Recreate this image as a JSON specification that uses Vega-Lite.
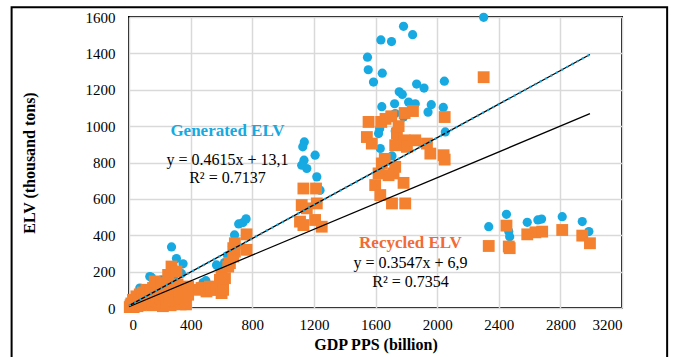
{
  "$schema": "https://vega.github.io/schema/vega-lite/v6.json",
  "width": 493,
  "height": 291,
  "autosize": {"type": "none"},
  "padding": {"left": 129, "top": 17, "right": 52, "bottom": 49},
  "background": "white",
  "config": {
    "view": {"stroke": "black", "strokeWidth": 2},
    "font": "Liberation Serif",
    "axis": {
      "labelFont": "Liberation Serif",
      "labelFontSize": 15,
      "labelColor": "black",
      "titleFont": "Liberation Serif",
      "titleFontSize": 16,
      "titleFontWeight": "bold",
      "titleColor": "black",
      "domain": false,
      "ticks": false,
      "grid": true,
      "gridColor": "#d9d9d9",
      "gridWidth": 1.5,
      "labelOverlap": false,
      "format": "d"
    }
  },
  "datasets": {
    "pts": [
      {"series": "Generated ELV", "x": 5, "y": 8},
      {"series": "Generated ELV", "x": 15, "y": 15},
      {"series": "Generated ELV", "x": 30, "y": 20},
      {"series": "Generated ELV", "x": 45, "y": 30},
      {"series": "Generated ELV", "x": 60, "y": 40},
      {"series": "Generated ELV", "x": 70, "y": 110},
      {"series": "Generated ELV", "x": 80, "y": 50},
      {"series": "Generated ELV", "x": 95, "y": 60},
      {"series": "Generated ELV", "x": 110, "y": 70},
      {"series": "Generated ELV", "x": 125, "y": 80},
      {"series": "Generated ELV", "x": 135, "y": 173},
      {"series": "Generated ELV", "x": 146, "y": 168},
      {"series": "Generated ELV", "x": 160, "y": 90},
      {"series": "Generated ELV", "x": 180, "y": 120},
      {"series": "Generated ELV", "x": 200, "y": 140},
      {"series": "Generated ELV", "x": 211, "y": 155},
      {"series": "Generated ELV", "x": 221, "y": 151},
      {"series": "Generated ELV", "x": 240, "y": 130},
      {"series": "Generated ELV", "x": 254, "y": 173},
      {"series": "Generated ELV", "x": 270, "y": 180},
      {"series": "Generated ELV", "x": 276, "y": 336},
      {"series": "Generated ELV", "x": 290, "y": 160},
      {"series": "Generated ELV", "x": 308, "y": 272},
      {"series": "Generated ELV", "x": 320, "y": 200},
      {"series": "Generated ELV", "x": 340, "y": 190},
      {"series": "Generated ELV", "x": 351, "y": 243},
      {"series": "Generated ELV", "x": 365, "y": 120},
      {"series": "Generated ELV", "x": 380, "y": 110},
      {"series": "Generated ELV", "x": 481, "y": 140},
      {"series": "Generated ELV", "x": 499, "y": 150},
      {"series": "Generated ELV", "x": 568, "y": 237},
      {"series": "Generated ELV", "x": 579, "y": 228},
      {"series": "Generated ELV", "x": 600, "y": 200},
      {"series": "Generated ELV", "x": 620, "y": 250},
      {"series": "Generated ELV", "x": 640, "y": 288},
      {"series": "Generated ELV", "x": 672, "y": 340},
      {"series": "Generated ELV", "x": 685, "y": 402},
      {"series": "Generated ELV", "x": 712, "y": 462},
      {"series": "Generated ELV", "x": 740, "y": 470},
      {"series": "Generated ELV", "x": 760, "y": 490},
      {"series": "Generated ELV", "x": 1138, "y": 913},
      {"series": "Generated ELV", "x": 1128, "y": 886},
      {"series": "Generated ELV", "x": 1208, "y": 840},
      {"series": "Generated ELV", "x": 1136, "y": 813},
      {"series": "Generated ELV", "x": 1154, "y": 767},
      {"series": "Generated ELV", "x": 1121, "y": 785},
      {"series": "Generated ELV", "x": 1219, "y": 721},
      {"series": "Generated ELV", "x": 1240, "y": 648},
      {"series": "Generated ELV", "x": 1782, "y": 1549},
      {"series": "Generated ELV", "x": 1841, "y": 1503},
      {"series": "Generated ELV", "x": 1635, "y": 1474},
      {"series": "Generated ELV", "x": 1704, "y": 1465},
      {"series": "Generated ELV", "x": 1548, "y": 1379},
      {"series": "Generated ELV", "x": 1553, "y": 1310},
      {"series": "Generated ELV", "x": 1644, "y": 1291},
      {"series": "Generated ELV", "x": 1587, "y": 1242},
      {"series": "Generated ELV", "x": 2047, "y": 1247},
      {"series": "Generated ELV", "x": 1867, "y": 1231},
      {"series": "Generated ELV", "x": 1915, "y": 1209},
      {"series": "Generated ELV", "x": 1754, "y": 1189},
      {"series": "Generated ELV", "x": 1774, "y": 1174},
      {"series": "Generated ELV", "x": 1641, "y": 1107},
      {"series": "Generated ELV", "x": 1724, "y": 1123},
      {"series": "Generated ELV", "x": 1815, "y": 1132},
      {"series": "Generated ELV", "x": 1858, "y": 1123},
      {"series": "Generated ELV", "x": 1962, "y": 1118},
      {"series": "Generated ELV", "x": 2040, "y": 1103},
      {"series": "Generated ELV", "x": 1941, "y": 1077},
      {"series": "Generated ELV", "x": 1782, "y": 1050},
      {"series": "Generated ELV", "x": 1728, "y": 1069},
      {"series": "Generated ELV", "x": 1627, "y": 986},
      {"series": "Generated ELV", "x": 1620, "y": 959},
      {"series": "Generated ELV", "x": 1728, "y": 973},
      {"series": "Generated ELV", "x": 2053, "y": 968},
      {"series": "Generated ELV", "x": 1631, "y": 877},
      {"series": "Generated ELV", "x": 1707, "y": 836},
      {"series": "Generated ELV", "x": 1782, "y": 886},
      {"series": "Generated ELV", "x": 2302, "y": 1598},
      {"series": "Generated ELV", "x": 2335, "y": 447},
      {"series": "Generated ELV", "x": 2450, "y": 515},
      {"series": "Generated ELV", "x": 2465, "y": 420},
      {"series": "Generated ELV", "x": 2471, "y": 392},
      {"series": "Generated ELV", "x": 2585, "y": 471},
      {"series": "Generated ELV", "x": 2654, "y": 484},
      {"series": "Generated ELV", "x": 2678, "y": 489},
      {"series": "Generated ELV", "x": 2812, "y": 502},
      {"series": "Generated ELV", "x": 2942, "y": 475},
      {"series": "Generated ELV", "x": 2985, "y": 420},
      {"series": "Recycled ELV", "x": 5, "y": 5},
      {"series": "Recycled ELV", "x": 10, "y": 15},
      {"series": "Recycled ELV", "x": 15, "y": 25},
      {"series": "Recycled ELV", "x": 20, "y": 10},
      {"series": "Recycled ELV", "x": 26, "y": 45},
      {"series": "Recycled ELV", "x": 30, "y": 5},
      {"series": "Recycled ELV", "x": 40, "y": 20},
      {"series": "Recycled ELV", "x": 48, "y": 64},
      {"series": "Recycled ELV", "x": 55, "y": 10},
      {"series": "Recycled ELV", "x": 60, "y": 30},
      {"series": "Recycled ELV", "x": 70, "y": 75},
      {"series": "Recycled ELV", "x": 75, "y": 15},
      {"series": "Recycled ELV", "x": 80, "y": 40},
      {"series": "Recycled ELV", "x": 90, "y": 85},
      {"series": "Recycled ELV", "x": 95, "y": 20},
      {"series": "Recycled ELV", "x": 100, "y": 50},
      {"series": "Recycled ELV", "x": 113, "y": 100},
      {"series": "Recycled ELV", "x": 120, "y": 30},
      {"series": "Recycled ELV", "x": 130, "y": 60},
      {"series": "Recycled ELV", "x": 140, "y": 90},
      {"series": "Recycled ELV", "x": 150, "y": 15},
      {"series": "Recycled ELV", "x": 156, "y": 110},
      {"series": "Recycled ELV", "x": 160, "y": 40},
      {"series": "Recycled ELV", "x": 167, "y": 146},
      {"series": "Recycled ELV", "x": 175, "y": 70},
      {"series": "Recycled ELV", "x": 185, "y": 20},
      {"series": "Recycled ELV", "x": 195, "y": 100},
      {"series": "Recycled ELV", "x": 205, "y": 50},
      {"series": "Recycled ELV", "x": 211, "y": 137},
      {"series": "Recycled ELV", "x": 220, "y": 10},
      {"series": "Recycled ELV", "x": 230, "y": 80},
      {"series": "Recycled ELV", "x": 240, "y": 30},
      {"series": "Recycled ELV", "x": 250, "y": 120},
      {"series": "Recycled ELV", "x": 254, "y": 182},
      {"series": "Recycled ELV", "x": 260, "y": 60},
      {"series": "Recycled ELV", "x": 270, "y": 15},
      {"series": "Recycled ELV", "x": 276, "y": 228},
      {"series": "Recycled ELV", "x": 285, "y": 90},
      {"series": "Recycled ELV", "x": 295, "y": 40},
      {"series": "Recycled ELV", "x": 308, "y": 201},
      {"series": "Recycled ELV", "x": 315, "y": 130},
      {"series": "Recycled ELV", "x": 325, "y": 70},
      {"series": "Recycled ELV", "x": 335, "y": 20},
      {"series": "Recycled ELV", "x": 345, "y": 100},
      {"series": "Recycled ELV", "x": 355, "y": 50},
      {"series": "Recycled ELV", "x": 362, "y": 80},
      {"series": "Recycled ELV", "x": 370, "y": 20},
      {"series": "Recycled ELV", "x": 384, "y": 118},
      {"series": "Recycled ELV", "x": 384, "y": 73},
      {"series": "Recycled ELV", "x": 460, "y": 100},
      {"series": "Recycled ELV", "x": 471, "y": 110},
      {"series": "Recycled ELV", "x": 503, "y": 91},
      {"series": "Recycled ELV", "x": 525, "y": 118},
      {"series": "Recycled ELV", "x": 536, "y": 100},
      {"series": "Recycled ELV", "x": 568, "y": 100},
      {"series": "Recycled ELV", "x": 590, "y": 118},
      {"series": "Recycled ELV", "x": 590, "y": 155},
      {"series": "Recycled ELV", "x": 601, "y": 82},
      {"series": "Recycled ELV", "x": 601, "y": 182},
      {"series": "Recycled ELV", "x": 611, "y": 100},
      {"series": "Recycled ELV", "x": 623, "y": 164},
      {"series": "Recycled ELV", "x": 644, "y": 228},
      {"series": "Recycled ELV", "x": 655, "y": 247},
      {"series": "Recycled ELV", "x": 677, "y": 283},
      {"series": "Recycled ELV", "x": 677, "y": 329},
      {"series": "Recycled ELV", "x": 687, "y": 310},
      {"series": "Recycled ELV", "x": 687, "y": 356},
      {"series": "Recycled ELV", "x": 763, "y": 405},
      {"series": "Recycled ELV", "x": 763, "y": 320},
      {"series": "Recycled ELV", "x": 1132, "y": 657},
      {"series": "Recycled ELV", "x": 1214, "y": 657},
      {"series": "Recycled ELV", "x": 1121, "y": 566},
      {"series": "Recycled ELV", "x": 1154, "y": 548},
      {"series": "Recycled ELV", "x": 1219, "y": 575},
      {"series": "Recycled ELV", "x": 1110, "y": 475},
      {"series": "Recycled ELV", "x": 1208, "y": 484},
      {"series": "Recycled ELV", "x": 1251, "y": 447},
      {"series": "Recycled ELV", "x": 1132, "y": 456},
      {"series": "Recycled ELV", "x": 1555, "y": 1023},
      {"series": "Recycled ELV", "x": 1637, "y": 1023},
      {"series": "Recycled ELV", "x": 1665, "y": 1040},
      {"series": "Recycled ELV", "x": 1702, "y": 1054},
      {"series": "Recycled ELV", "x": 1789, "y": 1072},
      {"series": "Recycled ELV", "x": 1843, "y": 1083},
      {"series": "Recycled ELV", "x": 2049, "y": 1050},
      {"series": "Recycled ELV", "x": 1544, "y": 940},
      {"series": "Recycled ELV", "x": 1576, "y": 904},
      {"series": "Recycled ELV", "x": 1739, "y": 959},
      {"series": "Recycled ELV", "x": 1750, "y": 1000},
      {"series": "Recycled ELV", "x": 1750, "y": 913},
      {"series": "Recycled ELV", "x": 1789, "y": 922},
      {"series": "Recycled ELV", "x": 1804, "y": 886},
      {"series": "Recycled ELV", "x": 1858, "y": 922},
      {"series": "Recycled ELV", "x": 1728, "y": 895},
      {"series": "Recycled ELV", "x": 1934, "y": 904},
      {"series": "Recycled ELV", "x": 1956, "y": 849},
      {"series": "Recycled ELV", "x": 2042, "y": 840},
      {"series": "Recycled ELV", "x": 2049, "y": 816},
      {"series": "Recycled ELV", "x": 1641, "y": 795},
      {"series": "Recycled ELV", "x": 1660, "y": 820},
      {"series": "Recycled ELV", "x": 1728, "y": 776},
      {"series": "Recycled ELV", "x": 1717, "y": 740},
      {"series": "Recycled ELV", "x": 1620, "y": 740},
      {"series": "Recycled ELV", "x": 1685, "y": 730},
      {"series": "Recycled ELV", "x": 1598, "y": 676},
      {"series": "Recycled ELV", "x": 1782, "y": 688},
      {"series": "Recycled ELV", "x": 1631, "y": 621},
      {"series": "Recycled ELV", "x": 1707, "y": 575},
      {"series": "Recycled ELV", "x": 1793, "y": 575},
      {"series": "Recycled ELV", "x": 2302, "y": 1269},
      {"series": "Recycled ELV", "x": 2335, "y": 341},
      {"series": "Recycled ELV", "x": 2450, "y": 453},
      {"series": "Recycled ELV", "x": 2465, "y": 338},
      {"series": "Recycled ELV", "x": 2471, "y": 329},
      {"series": "Recycled ELV", "x": 2585, "y": 405},
      {"series": "Recycled ELV", "x": 2638, "y": 416},
      {"series": "Recycled ELV", "x": 2682, "y": 420},
      {"series": "Recycled ELV", "x": 2812, "y": 429},
      {"series": "Recycled ELV", "x": 2942, "y": 398},
      {"series": "Recycled ELV", "x": 2992, "y": 356}
    ],
    "trend": [
      {"series": "Generated ELV", "x": 0, "y": 13.1},
      {"series": "Generated ELV", "x": 2992, "y": 1393.9},
      {"series": "Recycled ELV", "x": 0, "y": 6.9},
      {"series": "Recycled ELV", "x": 2992, "y": 1068.2}
    ],
    "one": [{}]
  },
  "layer": [
    {
      "data": {"name": "pts"},
      "transform": [{"filter": "datum.series === 'Generated ELV'"}],
      "mark": {"type": "point", "shape": "circle", "filled": true, "size": 85, "color": "#17A9E1", "opacity": 1},
      "encoding": {
        "x": {"field": "x", "type": "quantitative", "scale": {"domain": [0, 3200], "nice": false, "zero": false}, "axis": {"values": [0, 400, 800, 1200, 1600, 2000, 2400, 2800, 3200], "title": "GDP PPS (billion)", "labelPadding": 9, "titlePadding": 4, "grid": true, "format": "d", "labelOverlap": false, "labelFont": "Liberation Serif", "labelFontSize": 15}},
        "y": {"field": "y", "type": "quantitative", "scale": {"domain": [0, 1600], "nice": false, "zero": false}, "axis": {"values": [0, 200, 400, 600, 800, 1000, 1200, 1400, 1600], "title": "ELV (thousand tons)", "labelPadding": 14, "titlePadding": 48, "grid": true, "format": "d", "labelOverlap": false, "labelFont": "Liberation Serif", "labelFontSize": 15}}
      }
    },
    {
      "data": {"name": "pts"},
      "transform": [{"filter": "datum.series === 'Recycled ELV'"}],
      "mark": {"type": "point", "shape": "square", "filled": true, "size": 140, "color": "#F4812F", "opacity": 1},
      "encoding": {
        "x": {"field": "x", "type": "quantitative", "axis": {"values": [0, 400, 800, 1200, 1600, 2000, 2400, 2800, 3200], "title": "GDP PPS (billion)", "labelPadding": 9, "titlePadding": 4, "grid": true, "format": "d", "labelOverlap": false, "labelFont": "Liberation Serif", "labelFontSize": 15}},
        "y": {"field": "y", "type": "quantitative", "axis": {"values": [0, 200, 400, 600, 800, 1000, 1200, 1400, 1600], "title": "ELV (thousand tons)", "labelPadding": 14, "titlePadding": 48, "grid": true, "format": "d", "labelOverlap": false, "labelFont": "Liberation Serif", "labelFontSize": 15}}
      }
    },
    {
      "data": {"name": "trend"},
      "mark": {"type": "line", "color": "black", "strokeWidth": 1.3},
      "encoding": {
        "x": {"field": "x", "type": "quantitative", "axis": {"values": [0, 400, 800, 1200, 1600, 2000, 2400, 2800, 3200], "title": "GDP PPS (billion)", "labelPadding": 9, "titlePadding": 4, "grid": true, "format": "d", "labelOverlap": false, "labelFont": "Liberation Serif", "labelFontSize": 15}},
        "y": {"field": "y", "type": "quantitative", "axis": {"values": [0, 200, 400, 600, 800, 1000, 1200, 1400, 1600], "title": "ELV (thousand tons)", "labelPadding": 14, "titlePadding": 48, "grid": true, "format": "d", "labelOverlap": false, "labelFont": "Liberation Serif", "labelFontSize": 15}},
        "detail": {"field": "series"}
      }
    },
    {
      "data": {"name": "trend"},
      "transform": [{"filter": "datum.series === 'Generated ELV'"}],
      "mark": {"type": "line", "color": "#17A9E1", "strokeWidth": 2.2, "strokeDash": [2, 4]},
      "encoding": {
        "x": {"field": "x", "type": "quantitative", "axis": {"values": [0, 400, 800, 1200, 1600, 2000, 2400, 2800, 3200], "title": "GDP PPS (billion)", "labelPadding": 9, "titlePadding": 4, "grid": true, "format": "d", "labelOverlap": false, "labelFont": "Liberation Serif", "labelFontSize": 15}},
        "y": {"field": "y", "type": "quantitative", "axis": {"values": [0, 200, 400, 600, 800, 1000, 1200, 1400, 1600], "title": "ELV (thousand tons)", "labelPadding": 14, "titlePadding": 48, "grid": true, "format": "d", "labelOverlap": false, "labelFont": "Liberation Serif", "labelFontSize": 15}}
      }
    },
    {
      "data": {"name": "one"},
      "mark": {"type": "rect", "fill": null, "filled": false, "stroke": "black", "strokeWidth": 2, "clip": false},
      "encoding": {
        "x": {"datum": -762, "type": "quantitative", "axis": {"values": [0, 400, 800, 1200, 1600, 2000, 2400, 2800, 3200], "title": "GDP PPS (billion)", "labelPadding": 9, "titlePadding": 4, "grid": true, "format": "d", "labelOverlap": false, "labelFont": "Liberation Serif", "labelFontSize": 15}},
        "x2": {"datum": 3493},
        "y": {"datum": 1654, "type": "quantitative", "axis": {"values": [0, 200, 400, 600, 800, 1000, 1200, 1400, 1600], "title": "ELV (thousand tons)", "labelPadding": 14, "titlePadding": 48, "grid": true, "format": "d", "labelOverlap": false, "labelFont": "Liberation Serif", "labelFontSize": 15}},
        "y2": {"datum": -300}
      }
    },
    {
      "data": {"name": "one"},
      "mark": {"type": "text", "font": "Liberation Serif", "fontSize": 17, "fontWeight": "bold", "color": "#17A9E1", "align": "center", "baseline": "middle"},
      "encoding": {"x": {"datum": 639, "type": "quantitative", "axis": {"values": [0, 400, 800, 1200, 1600, 2000, 2400, 2800, 3200], "title": "GDP PPS (billion)", "labelPadding": 9, "titlePadding": 4, "grid": true, "format": "d", "labelOverlap": false, "labelFont": "Liberation Serif", "labelFontSize": 15}}, "y": {"datum": 973, "type": "quantitative", "axis": {"values": [0, 200, 400, 600, 800, 1000, 1200, 1400, 1600], "title": "ELV (thousand tons)", "labelPadding": 14, "titlePadding": 48, "grid": true, "format": "d", "labelOverlap": false, "labelFont": "Liberation Serif", "labelFontSize": 15}}, "text": {"value": "Generated ELV"}}
    },
    {
      "data": {"name": "one"},
      "mark": {"type": "text", "font": "Liberation Serif", "fontSize": 16, "color": "black", "align": "center", "baseline": "middle"},
      "encoding": {"x": {"datum": 639, "type": "quantitative", "axis": {"values": [0, 400, 800, 1200, 1600, 2000, 2400, 2800, 3200], "title": "GDP PPS (billion)", "labelPadding": 9, "titlePadding": 4, "grid": true, "format": "d", "labelOverlap": false, "labelFont": "Liberation Serif", "labelFontSize": 15}}, "y": {"datum": 814, "type": "quantitative", "axis": {"values": [0, 200, 400, 600, 800, 1000, 1200, 1400, 1600], "title": "ELV (thousand tons)", "labelPadding": 14, "titlePadding": 48, "grid": true, "format": "d", "labelOverlap": false, "labelFont": "Liberation Serif", "labelFontSize": 15}}, "text": {"value": "y = 0.4615x + 13,1"}}
    },
    {
      "data": {"name": "one"},
      "mark": {"type": "text", "font": "Liberation Serif", "fontSize": 16, "color": "black", "align": "center", "baseline": "middle"},
      "encoding": {"x": {"datum": 639, "type": "quantitative", "axis": {"values": [0, 400, 800, 1200, 1600, 2000, 2400, 2800, 3200], "title": "GDP PPS (billion)", "labelPadding": 9, "titlePadding": 4, "grid": true, "format": "d", "labelOverlap": false, "labelFont": "Liberation Serif", "labelFontSize": 15}}, "y": {"datum": 715, "type": "quantitative", "axis": {"values": [0, 200, 400, 600, 800, 1000, 1200, 1400, 1600], "title": "ELV (thousand tons)", "labelPadding": 14, "titlePadding": 48, "grid": true, "format": "d", "labelOverlap": false, "labelFont": "Liberation Serif", "labelFontSize": 15}}, "text": {"value": "R² = 0.7137"}}
    },
    {
      "data": {"name": "one"},
      "mark": {"type": "text", "font": "Liberation Serif", "fontSize": 17, "fontWeight": "bold", "color": "#F26A35", "align": "center", "baseline": "middle"},
      "encoding": {"x": {"datum": 1827, "type": "quantitative", "axis": {"values": [0, 400, 800, 1200, 1600, 2000, 2400, 2800, 3200], "title": "GDP PPS (billion)", "labelPadding": 9, "titlePadding": 4, "grid": true, "format": "d", "labelOverlap": false, "labelFont": "Liberation Serif", "labelFontSize": 15}}, "y": {"datum": 356, "type": "quantitative", "axis": {"values": [0, 200, 400, 600, 800, 1000, 1200, 1400, 1600], "title": "ELV (thousand tons)", "labelPadding": 14, "titlePadding": 48, "grid": true, "format": "d", "labelOverlap": false, "labelFont": "Liberation Serif", "labelFontSize": 15}}, "text": {"value": "Recycled ELV"}}
    },
    {
      "data": {"name": "one"},
      "mark": {"type": "text", "font": "Liberation Serif", "fontSize": 16, "color": "black", "align": "center", "baseline": "middle"},
      "encoding": {"x": {"datum": 1827, "type": "quantitative", "axis": {"values": [0, 400, 800, 1200, 1600, 2000, 2400, 2800, 3200], "title": "GDP PPS (billion)", "labelPadding": 9, "titlePadding": 4, "grid": true, "format": "d", "labelOverlap": false, "labelFont": "Liberation Serif", "labelFontSize": 15}}, "y": {"datum": 246, "type": "quantitative", "axis": {"values": [0, 200, 400, 600, 800, 1000, 1200, 1400, 1600], "title": "ELV (thousand tons)", "labelPadding": 14, "titlePadding": 48, "grid": true, "format": "d", "labelOverlap": false, "labelFont": "Liberation Serif", "labelFontSize": 15}}, "text": {"value": "y = 0.3547x + 6,9"}}
    },
    {
      "data": {"name": "one"},
      "mark": {"type": "text", "font": "Liberation Serif", "fontSize": 16, "color": "black", "align": "center", "baseline": "middle"},
      "encoding": {"x": {"datum": 1827, "type": "quantitative", "axis": {"values": [0, 400, 800, 1200, 1600, 2000, 2400, 2800, 3200], "title": "GDP PPS (billion)", "labelPadding": 9, "titlePadding": 4, "grid": true, "format": "d", "labelOverlap": false, "labelFont": "Liberation Serif", "labelFontSize": 15}}, "y": {"datum": 145, "type": "quantitative", "axis": {"values": [0, 200, 400, 600, 800, 1000, 1200, 1400, 1600], "title": "ELV (thousand tons)", "labelPadding": 14, "titlePadding": 48, "grid": true, "format": "d", "labelOverlap": false, "labelFont": "Liberation Serif", "labelFontSize": 15}}, "text": {"value": "R² = 0.7354"}}
    }
  ]
}
